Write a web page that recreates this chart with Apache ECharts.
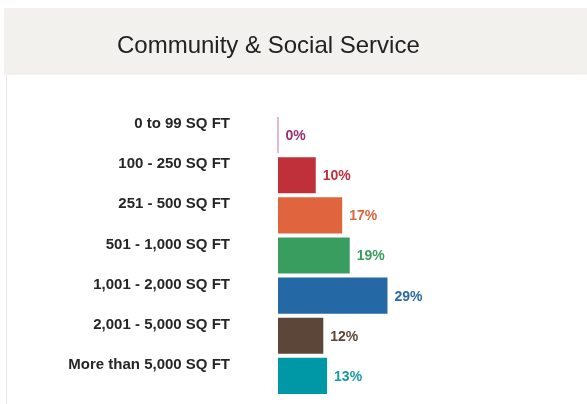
<!DOCTYPE html>
<html>
<head>
<meta charset="utf-8">
<script src="https://cdn.jsdelivr.net/npm/echarts@6/dist/echarts.min.js"></script>
<style>
  html, body { margin: 0; padding: 0; background: #fff; }
  #chart { width: 587px; height: 404px; }
</style>
</head>
<body>
<div id="chart"></div>
<script>
const categories = [
  '0 to 99 SQ FT',
  '100 - 250 SQ FT',
  '251 - 500 SQ FT',
  '501 - 1,000 SQ FT',
  '1,001 - 2,000 SQ FT',
  '2,001 - 5,000 SQ FT',
  'More than 5,000 SQ FT'
]
const values = [0, 10, 17, 19, 29, 12, 13]
const barColors = ['#d9a3c4', '#bf303b', '#e0643d', '#3a9d60', '#2469a6', '#5c4539', '#0097a7']
const labelColors = ['#9b2f74', '#c0313c', '#e0643c', '#3a9d5f', '#2a6aa8', '#5d4538', '#1a9aa6']

const myChart = echarts.init(document.getElementById('chart'))

myChart.setOption({
  animation: false,
  title: {
    text: 'Community & Social Service',
    left: 112,
    top: 29,
    textStyle: {
      fontFamily: 'Liberation Sans, Arial, sans-serif',
      fontSize: 24,
      fontWeight: 'normal',
      color: '#222'
    }
  },
  graphic: [
    {
      type: 'rect',
      z: -10,
      shape: { x: 4, y: 8, width: 583, height: 67 },
      style: { fill: '#f2f1ee' }
    },
    {
      type: 'rect',
      z: -10,
      shape: { x: 6, y: 75, width: 1, height: 329 },
      style: { fill: '#e6e6e6' }
    }
  ],
  grid: {
    left: 278,
    right: 158,
    top: 115,
    bottom: 8,
    containLabel: false
  },
  xAxis: {
    type: 'value',
    min: 0,
    max: 40,
    show: false
  },
  yAxis: {
    type: 'category',
    inverse: true,
    data: categories,
    axisLine: { show: false },
    axisTick: { show: false },
    axisLabel: {
      margin: 48,
      formatter: '{a|{value}}',
      rich: {
        a: {
          padding: [0, 0, 22, 0],
          fontFamily: 'Liberation Sans, Arial, sans-serif',
          fontSize: 15,
          fontWeight: 'bold',
          color: '#262626'
        }
      }
    }
  },
  series: [
    {
      type: 'bar',
      barCategoryGap: '10%',
      data: values.map((v, i) => ({
        value: v,
        itemStyle: { color: barColors[i], borderColor: barColors[i], borderWidth: v === 0 ? 1 : 0 },
        label: { color: labelColors[i] }
      })),
      label: {
        show: true,
        position: 'right',
        distance: 7,
        offset: [0, 1],
        formatter: '{c}%',
        fontFamily: 'Liberation Sans, Arial, sans-serif',
        fontSize: 14,
        fontWeight: 'bold'
      }
    }
  ]
})
</script>
</body>
</html>
